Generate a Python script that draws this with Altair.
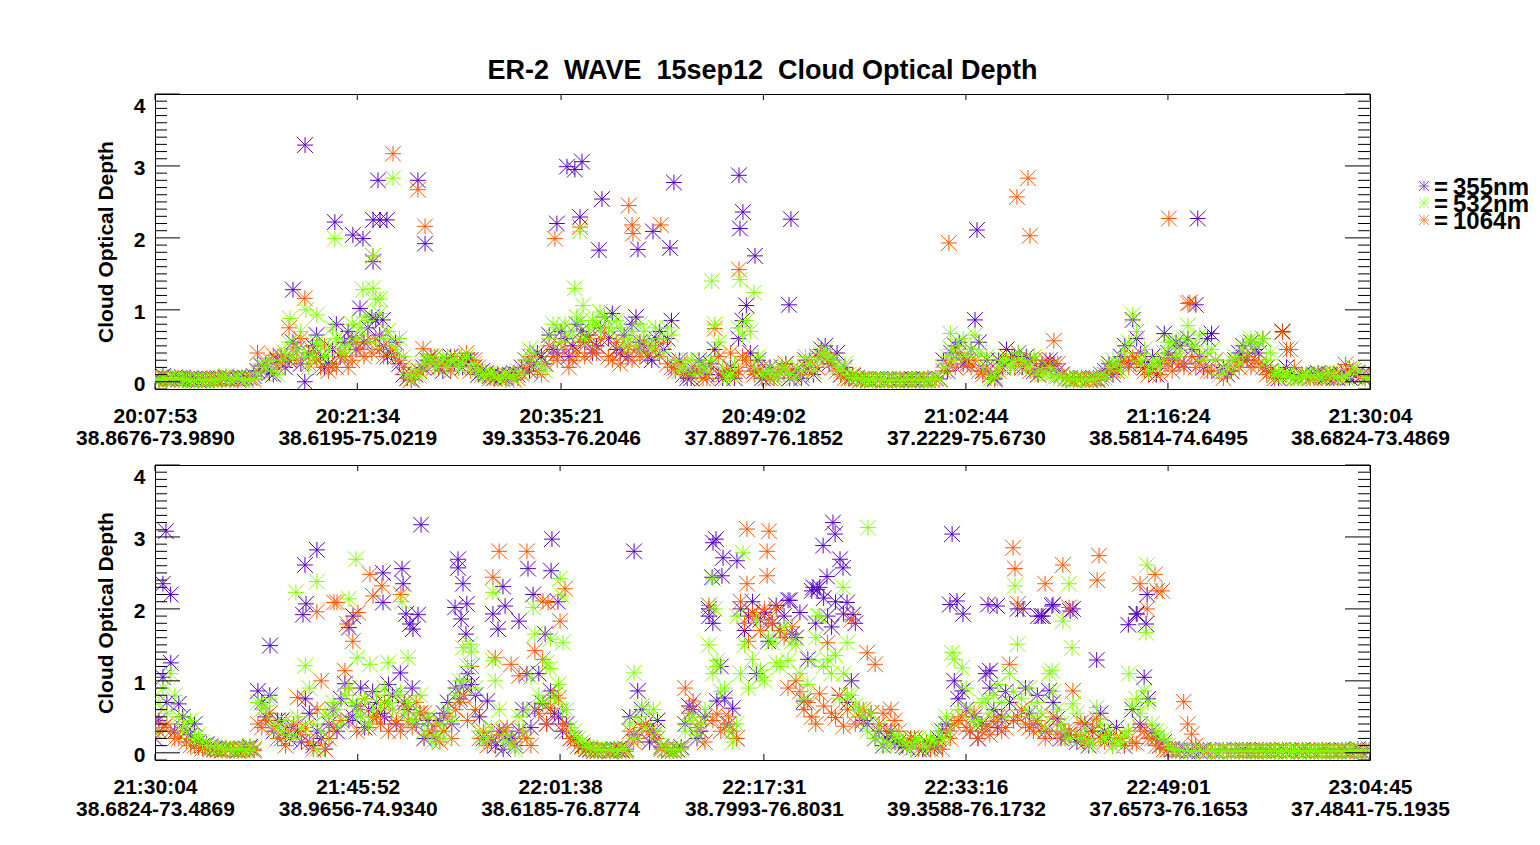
import altair as alt
import pandas as pd

# --- tick labels (time + lat/lon under each major tick) ---
P1_TICKS = ["20:07:53", "20:21:34", "20:35:21", "20:49:02", "21:02:44", "21:16:24", "21:30:04"]
P1_COORDS = ["38.8676-73.9890", "38.6195-75.0219", "39.3353-76.2046", "37.8897-76.1852",
             "37.2229-75.6730", "38.5814-74.6495", "38.6824-73.4869"]
P2_TICKS = ["21:30:04", "21:45:52", "22:01:38", "22:17:31", "22:33:16", "22:49:01", "23:04:45"]
P2_COORDS = ["38.6824-73.4869", "38.9656-74.9340", "38.6185-76.8774", "38.7993-76.8031",
             "39.3588-76.1732", "37.6573-76.1653", "37.4841-75.1935"]

WAVES = ["355nm", "532nm", "1064nm"]
COLORS = ["#5500cc", "#80ff00", "#ff5500"]

# sample spacing of the retrievals (seconds) in each leg; "_B" lists sit half a step later
P1_STEP = 32
P2_STEP = 37

# --- leg 1: 20:07:53 - 21:30:04 ---
P1_355 = [0.05, 0.08, 0.04, 0.05, 0.03, 0.04, 0.03, 0.04, 0.05, 0.06,
          0.04, 0.05, 0.06, 0.15, 0.25, 0.10, 0.35, 0.30, 0.45, 0.00,
          0.50, 0.35, 0.25, 0.80, 0.55, 0.60, 1.02, 0.75, 0.86, 0.50,
          0.40, 0.25, 0.05, 0.10, 0.20, 0.35, 0.20, 0.30, 0.25, 0.20,
          0.30, 0.10, 0.12, 0.05, 0.08, 0.10, 0.10, 0.30, 0.25, 0.35,
          0.65, 0.40, 0.60, 0.50, 0.70, 0.65, 0.50, 0.90, 0.95, 0.40,
          0.35, 0.90, 0.50, 0.30, 0.70, 0.60, 0.20, 0.10, 0.05, 0.30,
          0.10, 0.45, 0.05, 0.20, 0.60, 1.06, 0.15, 0.05, 0.20, 0.10,
          0.25, 0.10, 0.05, 0.20, 0.35, 0.50, 0.30, 0.10, 0.05, 0.05,
          0.04, 0.03, 0.04, 0.03, 0.02, 0.03, 0.04, 0.03, 0.03, 0.05,
          0.30, 0.40, 0.55, 0.30, 0.86, 0.15, 0.10, 0.30, 0.45, 0.35,
          0.20, 0.30, 0.10, 0.20, 0.25, 0.10, 0.05, 0.04, 0.03, 0.05,
          0.10, 0.25, 0.20, 0.50, 0.86, 0.40, 0.20, 0.10, 0.67, 0.30,
          0.50, 0.60, 1.07, 0.20, 0.67, 0.15, 0.10, 0.30, 0.50, 0.55,
          0.40, 0.20, 0.10, 0.70, 0.10, 0.05, 0.08, 0.10, 0.06, 0.10,
          0.05, 0.15, 0.10, 0.08, 0.10]
P1_355_B = [0.03, 0.04, 0.06, 0.03, 0.05, 0.02, 0.04, 0.03, 0.04, 0.05,
            0.03, 0.06, 0.08, 0.22, 0.12, 0.30, 0.20, 0.55, 0.25, 0.40,
            0.65, 0.20, 0.45, 0.35, 0.70, 0.45, 0.55, 0.90, 0.65, 0.35,
            0.55, 0.10, 0.03, 0.15, 0.30, 0.25, 0.15, 0.35, 0.20, 0.30,
            0.20, 0.15, 0.08, 0.10, 0.05, 0.12, 0.20, 0.15, 0.40, 0.25,
            0.45, 0.70, 0.35, 0.80, 0.55, 0.40, 0.75, 0.60, 0.45, 0.65,
            0.80, 0.55, 0.35, 0.60, 0.45, 0.85, 0.30, 0.05, 0.15, 0.20,
            0.25, 0.10, 0.15, 0.05, 0.85, 0.40, 0.30, 0.10, 0.05, 0.20,
            0.05, 0.15, 0.30, 0.10, 0.45, 0.25, 0.40, 0.20, 0.08, 0.03,
            0.03, 0.04, 0.02, 0.03, 0.04, 0.03, 0.02, 0.04, 0.03, 0.04,
            0.15, 0.50, 0.25, 0.45, 0.55, 0.30, 0.05, 0.20, 0.30, 0.40,
            0.35, 0.15, 0.25, 0.30, 0.15, 0.05, 0.03, 0.05, 0.04, 0.03,
            0.15, 0.10, 0.35, 0.25, 0.60, 0.20, 0.35, 0.25, 0.40, 0.55,
            0.25, 0.45, 0.35, 0.60, 0.30, 0.20, 0.15, 0.40, 0.30, 0.45,
            0.60, 0.15, 0.05, 0.20, 0.05, 0.10, 0.06, 0.12, 0.08, 0.05,
            0.10, 0.06, 0.12, 0.05, 0.08]
P1_532 = [0.03, 0.05, 0.06, 0.04, 0.03, 0.02, 0.02, 0.03, 0.04, 0.08,
          0.04, 0.03, 0.05, 0.12, 0.20, 0.15, 0.30, 0.55, 0.45, 0.40,
          0.35, 0.50, 0.45, 0.60, 0.40, 0.80, 0.75, 0.85, 1.15, 0.60,
          0.50, 0.60, 0.10, 0.15, 0.25, 0.30, 0.25, 0.20, 0.30, 0.25,
          0.20, 0.15, 0.10, 0.08, 0.05, 0.08, 0.15, 0.30, 0.40, 0.20,
          0.60, 0.75, 0.80, 0.70, 0.85, 0.75, 0.80, 0.90, 0.70, 0.75,
          0.60, 0.50, 0.70, 0.45, 0.60, 0.75, 0.30, 0.20, 0.30, 0.25,
          0.15, 0.80, 0.20, 0.10, 0.75, 0.85, 0.20, 0.10, 0.15, 0.10,
          0.20, 0.05, 0.15, 0.25, 0.30, 0.45, 0.30, 0.15, 0.10, 0.06,
          0.04, 0.03, 0.03, 0.02, 0.03, 0.03, 0.02, 0.03, 0.03, 0.04,
          0.20, 0.45, 0.50, 0.35, 0.65, 0.20, 0.05, 0.20, 0.30, 0.25,
          0.30, 0.20, 0.15, 0.10, 0.05, 0.08, 0.04, 0.03, 0.03, 0.04,
          0.10, 0.20, 0.25, 0.40, 0.93, 0.30, 0.15, 0.30, 0.40, 0.55,
          0.45, 0.78, 0.50, 0.30, 0.45, 0.10, 0.20, 0.35, 0.45, 0.60,
          0.55, 0.30, 0.10, 0.08, 0.06, 0.05, 0.10, 0.08, 0.05, 0.12,
          0.08, 0.06, 0.20, 0.10, 0.05]
P1_532_B = [0.02, 0.03, 0.05, 0.04, 0.02, 0.03, 0.03, 0.02, 0.05, 0.04,
            0.06, 0.02, 0.04, 0.25, 0.30, 0.10, 0.40, 0.35, 0.70, 0.20,
            0.55, 0.35, 0.75, 0.45, 0.50, 0.60, 0.90, 0.55, 0.95, 0.70,
            0.45, 0.35, 0.05, 0.08, 0.35, 0.20, 0.35, 0.30, 0.20, 0.35,
            0.25, 0.10, 0.12, 0.05, 0.10, 0.05, 0.10, 0.45, 0.25, 0.15,
            0.80, 0.55, 0.65, 0.90, 0.60, 0.85, 0.70, 0.75, 0.85, 0.50,
            0.70, 0.80, 0.55, 0.75, 0.40, 0.65, 0.15, 0.30, 0.10, 0.20,
            0.30, 0.55, 0.05, 0.25, 0.65, 0.70, 0.35, 0.15, 0.05, 0.20,
            0.10, 0.20, 0.35, 0.15, 0.40, 0.35, 0.20, 0.25, 0.05, 0.04,
            0.02, 0.04, 0.03, 0.03, 0.02, 0.04, 0.03, 0.02, 0.04, 0.03,
            0.35, 0.30, 0.60, 0.45, 0.40, 0.35, 0.08, 0.30, 0.20, 0.40,
            0.20, 0.35, 0.10, 0.20, 0.08, 0.04, 0.03, 0.04, 0.02, 0.05,
            0.05, 0.30, 0.15, 0.55, 0.70, 0.45, 0.25, 0.20, 0.55, 0.35,
            0.60, 0.50, 0.65, 0.40, 0.30, 0.15, 0.30, 0.25, 0.55, 0.50,
            0.60, 0.40, 0.15, 0.10, 0.05, 0.08, 0.06, 0.10, 0.12, 0.08,
            0.05, 0.10, 0.15, 0.06, 0.08]
P1_1064 = [0.04, 0.06, 0.05, 0.03, 0.04, 0.02, 0.03, 0.04, 0.03, 0.05,
           0.04, 0.03, 0.05, 0.40, 0.20, 0.37, 0.25, 0.75, 0.30, 1.16,
           0.40, 0.20, 0.15, 0.20, 0.35, 0.30, 0.45, 0.55, 0.60, 0.35,
           0.45, 0.30, 0.05, 0.10, 0.46, 0.30, 0.20, 0.25, 0.35, 0.30,
           0.15, 0.20, 0.10, 0.05, 0.04, 0.08, 0.05, 0.20, 0.35, 0.10,
           0.50, 0.30, 0.45, 0.30, 0.55, 0.60, 0.40, 0.70, 0.30, 0.25,
           0.50, 0.45, 0.55, 0.50, 0.35, 0.25, 0.15, 0.20, 0.10, 0.15,
           0.05, 0.74, 0.10, 0.40, 0.15, 0.30, 0.10, 0.20, 0.05, 0.15,
           0.25, 0.05, 0.10, 0.30, 0.20, 0.40, 0.20, 0.10, 0.05, 0.04,
           0.03, 0.02, 0.03, 0.02, 0.03, 0.03, 0.02, 0.03, 0.02, 0.04,
           0.15, 0.30, 0.40, 0.25, 0.30, 0.10, 0.05, 0.15, 0.35, 0.20,
           0.25, 0.15, 0.10, 0.30, 0.57, 0.10, 0.03, 0.04, 0.03, 0.03,
           0.05, 0.20, 0.15, 0.30, 0.35, 0.25, 0.10, 0.20, 0.30, 0.15,
           0.25, 1.09, 0.20, 0.30, 0.15, 0.10, 0.20, 0.25, 0.30, 0.20,
           0.25, 0.10, 0.05, 0.69, 0.45, 0.05, 0.08, 0.05, 0.10, 0.06,
           0.05, 0.24, 0.15, 0.08, 0.06]
P1_1064_B = [0.05, 0.03, 0.04, 0.06, 0.03, 0.04, 0.02, 0.05, 0.04, 0.03,
             0.05, 0.04, 0.03, 0.15, 0.30, 0.20, 0.35, 0.45, 0.60, 0.25,
             0.30, 0.50, 0.25, 0.40, 0.20, 0.55, 0.35, 0.40, 0.45, 0.70,
             0.35, 0.20, 0.03, 0.15, 0.20, 0.35, 0.25, 0.15, 0.20, 0.40,
             0.30, 0.10, 0.05, 0.08, 0.10, 0.03, 0.12, 0.35, 0.15, 0.25,
             0.35, 0.55, 0.20, 0.40, 0.35, 0.45, 0.60, 0.35, 0.55, 0.40,
             0.30, 0.35, 0.40, 0.45, 0.55, 0.20, 0.25, 0.10, 0.20, 0.05,
             0.20, 0.35, 0.15, 0.10, 0.35, 0.20, 0.15, 0.05, 0.10, 0.20,
             0.15, 0.10, 0.20, 0.15, 0.35, 0.30, 0.15, 0.05, 0.10, 0.03,
             0.04, 0.03, 0.02, 0.03, 0.03, 0.02, 0.04, 0.02, 0.03, 0.03,
             0.25, 0.20, 0.30, 0.20, 0.15, 0.20, 0.03, 0.25, 0.20, 0.30,
             0.20, 0.30, 0.15, 0.20, 0.25, 0.05, 0.02, 0.03, 0.04, 0.03,
             0.10, 0.15, 0.25, 0.20, 0.30, 0.15, 0.20, 0.10, 0.25, 0.30,
             0.20, 0.35, 0.25, 0.15, 0.30, 0.05, 0.15, 0.20, 0.35, 0.30,
             0.20, 0.15, 0.10, 0.45, 0.20, 0.08, 0.05, 0.10, 0.06, 0.12,
             0.08, 0.18, 0.10, 0.05, 0.08]

# isolated high retrievals: (seconds after leg start, optical depth)
P1_355_HIGH = [(560, 1.28), (609, 3.29), (730, 2.22), (803, 2.04), (844, 1.99), (885, 2.25),
               (913, 2.25), (941, 2.25), (905, 2.80), (885, 1.67), (925, 0.86), (1067, 2.80),
               (1096, 1.92), (1631, 2.20), (1672, 2.99), (1704, 2.95), (1733, 3.06), (1725, 2.29),
               (1802, 1.83), (1814, 2.54), (1960, 1.84), (2021, 2.09), (2090, 1.86), (2106, 2.77),
               (2370, 2.87), (2386, 2.36), (2374, 2.13), (2435, 1.75), (2581, 2.26), (2573, 1.07),
               (3336, 2.11), (4232, 2.27)]
P1_532_HIGH = [(548, 0.88), (613, 1.00), (657, 0.93), (730, 1.99), (844, 1.28), (885, 1.75),
               (885, 1.30), (913, 1.15), (966, 2.83), (1704, 1.30), (1737, 1.06), (1725, 2.09),
               (1806, 0.97), (2260, 1.40), (2374, 1.42), (2431, 1.24), (3228, 0.67)]
P1_1064_HIGH = [(966, 3.17), (1067, 2.67), (1096, 2.16), (885, 1.75), (1623, 1.99), (1725, 2.15),
                (1923, 2.45), (1936, 2.18), (1940, 2.06), (2053, 2.18), (2370, 1.56), (3222, 1.93),
                (3498, 2.57), (3543, 2.83), (3551, 2.03), (4115, 2.27), (4200, 1.10)]

# --- leg 2: 21:30:04 - 23:04:45 ---
P2_355 = [0.20, 1.05, 1.25, 0.68, 0.30, 0.40, 0.10, 0.08, 0.05, 0.06,
          0.04, 0.05, 0.08, 0.86, 0.50, 0.30, 0.45, 0.20, 0.30, 0.75,
          0.10, 0.20, 0.40, 0.30, 0.96, 0.50, 0.90, 0.60, 0.70, 0.50,
          0.80, 1.11, 0.60, 0.40, 0.20, 0.30, 0.45, 0.70, 0.90, 0.93,
          0.95, 0.50, 0.72, 0.10, 0.05, 0.20, 0.30, 1.10, 0.60, 0.68,
          0.86, 0.50, 0.40, 0.20, 0.10, 0.05, 0.03, 0.04, 0.05, 0.03,
          0.50, 0.86, 0.40, 0.30, 0.08, 0.04, 0.05, 0.40, 0.60, 0.30,
          2.00, 0.72, 0.76, 0.62, 2.00, 1.90, 1.10, 1.95, 1.80, 1.70,
          2.12, 1.60, 0.72, 2.25, 2.30, 1.90, 2.10, 1.93, 1.00, 0.60,
          0.40, 0.20, 0.10, 0.30, 0.15, 0.08, 0.20, 0.05, 0.10, 0.20,
          0.40, 1.00, 0.86, 0.30, 0.20, 1.10, 0.60, 0.50, 0.70, 2.00,
          0.90, 0.40, 1.90, 0.86, 0.47, 0.30, 2.00, 0.20, 0.10, 1.29,
          0.30, 0.10, 0.20, 1.78, 1.93, 1.05, 0.30, 0.10, 0.05, 0.03,
          0.04, 0.03, 0.02, 0.03, 0.03, 0.04, 0.02, 0.03, 0.03, 0.02,
          0.04, 0.03, 0.03, 0.02, 0.03, 0.04, 0.03, 0.02, 0.03, 0.03,
          0.04, 0.02, 0.05, 0.03]
P2_355_B = [0.45, 0.70, 0.30, 0.50, 0.25, 0.15, 0.12, 0.06, 0.04, 0.05,
            0.03, 0.06, 0.05, 0.70, 0.80, 0.45, 0.25, 0.35, 0.15, 0.55,
            0.30, 0.05, 0.60, 0.75, 0.45, 0.65, 0.35, 0.85, 0.55, 0.95,
            0.40, 0.70, 0.90, 0.55, 0.45, 0.20, 0.55, 0.40, 0.75, 1.10,
            0.80, 0.20, 0.15, 0.30, 0.25, 0.10, 0.60, 0.35, 1.10, 0.40,
            0.55, 0.30, 0.20, 0.10, 0.05, 0.03, 0.04, 0.02, 0.04, 0.05,
            0.25, 0.60, 0.15, 0.45, 0.05, 0.03, 0.08, 0.65, 0.20, 0.50,
            1.80, 1.20, 0.40, 0.20, 1.70, 2.10, 1.85, 1.55, 2.05, 1.90,
            1.65, 1.95, 1.30, 1.80, 2.15, 1.75, 0.80, 0.70, 1.80, 0.45,
            0.55, 0.30, 0.20, 0.15, 0.10, 0.20, 0.05, 0.15, 0.08, 0.30,
            0.30, 0.75, 0.60, 0.50, 0.40, 0.90, 0.35, 0.85, 0.45, 0.60,
            0.55, 0.80, 0.30, 0.70, 0.20, 0.25, 0.15, 0.40, 0.30, 0.55,
            0.20, 0.35, 0.10, 0.60, 0.40, 0.75, 0.20, 0.15, 0.05, 0.04,
            0.02, 0.03, 0.04, 0.03, 0.02, 0.03, 0.03, 0.04, 0.02, 0.03,
            0.03, 0.02, 0.04, 0.03, 0.03, 0.02, 0.03, 0.04, 0.03, 0.02,
            0.03, 0.03, 0.02, 0.04]
P2_532 = [0.30, 0.90, 1.10, 0.50, 0.35, 0.20, 0.15, 0.10, 0.08, 0.05,
          0.04, 0.06, 0.10, 0.70, 0.65, 0.40, 0.30, 0.25, 0.50, 1.21,
          0.40, 0.30, 0.50, 0.60, 0.80, 0.70, 0.50, 0.40, 0.80, 0.90,
          0.60, 0.85, 0.70, 0.55, 0.30, 0.15, 0.40, 0.60, 0.80, 1.00,
          1.40, 0.30, 0.20, 1.00, 0.15, 0.10, 0.50, 0.60, 1.65, 0.70,
          1.58, 0.95, 0.60, 0.30, 0.15, 0.08, 0.05, 0.03, 0.04, 0.06,
          0.40, 0.50, 0.35, 0.60, 0.10, 0.05, 0.04, 0.30, 0.50, 0.40,
          1.50, 1.20, 0.90, 0.15, 1.10, 0.90, 1.85, 1.00, 1.53, 1.20,
          1.28, 1.50, 0.75, 1.28, 1.90, 1.30, 1.35, 1.10, 0.80, 0.60,
          0.30, 0.20, 0.15, 0.10, 0.20, 0.10, 0.15, 0.10, 0.20, 0.30,
          0.50, 1.30, 1.18, 0.60, 0.45, 0.75, 0.80, 0.70, 1.10, 1.51,
          0.60, 0.50, 0.55, 1.10, 0.60, 0.30, 0.68, 0.20, 0.15, 0.63,
          0.20, 0.10, 0.15, 0.30, 0.75, 0.86, 0.40, 0.25, 0.10, 0.04,
          0.03, 0.02, 0.03, 0.03, 0.02, 0.03, 0.02, 0.03, 0.03, 0.02,
          0.03, 0.03, 0.02, 0.03, 0.03, 0.02, 0.03, 0.02, 0.03, 0.03,
          0.02, 0.03, 0.04, 0.03]
P2_532_B = [0.70, 0.55, 0.80, 0.30, 0.45, 0.25, 0.10, 0.08, 0.05, 0.04,
            0.06, 0.03, 0.05, 0.60, 0.75, 0.35, 0.45, 0.20, 0.35, 0.90,
            0.05, 0.55, 0.70, 0.40, 0.90, 0.55, 0.75, 0.60, 0.65, 0.70,
            0.80, 0.55, 0.45, 0.80, 0.50, 0.25, 0.20, 0.45, 1.00, 1.20,
            0.90, 0.15, 0.35, 0.60, 0.25, 0.05, 0.30, 1.05, 0.80, 1.25,
            0.75, 0.60, 0.35, 0.20, 0.08, 0.05, 0.03, 0.04, 0.02, 0.04,
            0.20, 0.65, 0.55, 0.30, 0.05, 0.04, 0.05, 0.45, 0.25, 0.60,
            1.10, 0.85, 0.30, 0.40, 1.50, 1.30, 1.15, 1.60, 1.25, 1.75,
            1.55, 1.10, 0.95, 1.60, 1.20, 1.10, 0.75, 0.80, 0.65, 0.50,
            0.55, 0.35, 0.10, 0.25, 0.15, 0.05, 0.20, 0.08, 0.15, 0.20,
            0.30, 0.60, 0.90, 0.40, 0.70, 0.55, 0.95, 0.50, 0.85, 0.75,
            0.90, 0.70, 0.35, 0.85, 0.40, 0.20, 0.55, 0.35, 0.10, 0.40,
            0.30, 0.15, 0.25, 0.65, 0.55, 0.70, 0.30, 0.20, 0.06, 0.03,
            0.03, 0.03, 0.02, 0.03, 0.02, 0.03, 0.03, 0.02, 0.03, 0.03,
            0.02, 0.03, 0.03, 0.02, 0.03, 0.02, 0.03, 0.03, 0.02, 0.03,
            0.03, 0.02, 0.03, 0.03]
P2_1064 = [0.49, 0.35, 0.30, 0.20, 0.15, 0.10, 0.06, 0.05, 0.04, 0.05,
           0.03, 0.04, 0.06, 0.40, 0.45, 0.35, 0.20, 0.30, 0.77, 0.35,
           0.05, 1.00, 0.20, 2.09, 1.14, 1.55, 0.60, 0.35, 0.50, 0.70,
           0.60, 0.30, 0.45, 0.70, 0.55, 0.30, 0.15, 0.50, 0.60, 0.80,
           1.20, 0.20, 0.10, 1.32, 0.30, 1.23, 1.07, 0.20, 1.42, 1.30,
           0.62, 0.76, 0.30, 0.15, 0.08, 0.04, 0.03, 0.04, 0.03, 0.04,
           0.30, 0.20, 0.40, 0.25, 0.05, 0.03, 0.04, 0.90, 0.72, 0.40,
           2.05, 0.54, 0.35, 0.30, 2.10, 1.55, 1.90, 2.00, 1.80, 1.70,
           0.90, 1.00, 0.60, 0.50, 0.82, 1.53, 0.49, 0.37, 1.85, 0.50,
           1.39, 1.23, 0.55, 0.60, 0.30, 0.10, 0.20, 0.10, 0.05, 0.15,
           0.30, 0.40, 0.50, 0.30, 0.20, 0.37, 0.44, 0.30, 1.23, 0.50,
           0.40, 0.30, 0.35, 0.30, 0.26, 0.20, 0.86, 0.42, 0.20, 0.47,
           0.15, 0.10, 0.20, 0.30, 0.13, 0.30, 0.20, 0.10, 0.05, 0.04,
           0.71, 0.26, 0.03, 0.02, 0.03, 0.03, 0.02, 0.03, 0.04, 0.03,
           0.02, 0.03, 0.03, 0.02, 0.03, 0.03, 0.02, 0.03, 0.03, 0.02,
           0.03, 0.03, 0.02, 0.03]
P2_1064_B = [0.30, 0.40, 0.20, 0.35, 0.10, 0.08, 0.10, 0.04, 0.03, 0.05,
             0.04, 0.05, 0.03, 0.35, 0.55, 0.20, 0.10, 0.40, 0.25, 0.15,
             0.60, 0.05, 0.35, 0.45, 0.90, 0.30, 0.75, 0.50, 0.40, 0.30,
             0.45, 0.65, 0.35, 0.55, 0.25, 0.40, 0.30, 0.20, 0.70, 0.45,
             0.60, 0.30, 0.20, 0.25, 0.35, 0.15, 0.30, 0.10, 0.55, 0.40,
             0.80, 0.40, 0.20, 0.10, 0.05, 0.03, 0.04, 0.03, 0.05, 0.02,
             0.15, 0.35, 0.30, 0.20, 0.04, 0.03, 0.05, 0.55, 0.35, 0.15,
             0.45, 0.30, 0.50, 0.20, 1.80, 1.95, 1.70, 1.85, 2.00, 1.60,
             1.75, 0.85, 0.70, 0.40, 0.65, 0.55, 0.80, 0.60, 0.40, 0.60,
             0.55, 0.40, 0.30, 0.45, 0.15, 0.20, 0.05, 0.15, 0.10, 0.05,
             0.20, 0.45, 0.35, 0.55, 0.30, 0.25, 0.50, 0.35, 0.45, 0.60,
             0.35, 0.45, 0.20, 0.50, 0.40, 0.30, 0.25, 0.15, 0.35, 0.20,
             0.25, 0.20, 0.10, 0.15, 0.35, 0.20, 0.10, 0.05, 0.04, 0.03,
             0.40, 0.10, 0.03, 0.03, 0.02, 0.03, 0.03, 0.02, 0.03, 0.03,
             0.03, 0.02, 0.03, 0.03, 0.02, 0.03, 0.03, 0.02, 0.03, 0.03,
             0.02, 0.03, 0.03, 0.02]

P2_355_HIGH = [(37, 2.35), (51, 3.08), (73, 2.20), (538, 1.49), (701, 2.61), (757, 2.82),
               (706, 2.07), (692, 1.92), (907, 1.74), (926, 1.90), (1066, 2.50), (1066, 2.09),
               (1155, 2.56), (1160, 2.35), (1174, 1.93), (1192, 1.79), (1206, 1.72), (1230, 1.92),
               (1244, 3.17), (1417, 2.69), (1417, 2.57), (1440, 2.35), (1403, 2.02), (1458, 2.07),
               (1454, 1.65), (1431, 1.86), (1580, 1.93), (1627, 2.31), (1604, 1.72), (1637, 2.04),
               (1702, 1.83), (1744, 2.56), (1768, 2.20), (1824, 1.65), (1856, 2.97), (1852, 2.53),
               (1884, 2.10), (2240, 2.80), (2623, 2.97), (2609, 2.92), (2656, 2.71), (2605, 2.44),
               (2721, 2.67), (2651, 2.46), (2591, 1.90), (2969, 2.12), (3077, 2.30), (3124, 2.88),
               (3170, 3.20), (3180, 3.04), (3203, 2.69), (3217, 2.57), (3142, 2.45), (3096, 2.27),
               (3236, 2.09), (3264, 1.92), (3727, 3.04), (3717, 2.06), (3750, 2.11), (3778, 1.93),
               (3895, 2.06), (3937, 2.04), (4059, 2.00), (4129, 1.90), (4194, 2.04), (4152, 1.90),
               (4199, 2.06), (4279, 1.97), (4639, 2.20), (4592, 1.93), (4634, 1.79), (3904, 1.14)]
P2_532_HIGH = [(659, 2.23), (757, 2.38), (907, 2.14), (940, 2.69), (945, 1.32), (1155, 2.10),
               (1183, 1.32), (1090, 1.25), (1005, 1.23), (1440, 1.46), (1473, 1.51), (1580, 2.23),
               (1580, 1.28), (1768, 2.02), (1894, 2.42), (1903, 2.18), (1908, 1.53), (1847, 1.17),
               (2240, 1.11), (2609, 2.42), (2749, 2.78), (2618, 2.00), (2721, 1.90), (2628, 1.28),
               (2829, 1.05), (3217, 2.30), (3334, 3.13), (3100, 1.90), (3236, 1.53), (3727, 1.39),
               (4021, 2.32), (4274, 2.35), (4245, 1.83), (4639, 2.61), (4634, 1.67), (4288, 1.46),
               (4194, 1.14), (4554, 1.10)]
P2_1064_HIGH = [(757, 1.96), (837, 2.09), (898, 1.79), (949, 1.95), (1005, 2.48), (1019, 2.18),
                (1061, 2.32), (1150, 2.20), (1609, 2.80), (1580, 2.44), (1739, 2.80), (1814, 2.11),
                (1838, 2.09), (1917, 2.28), (1894, 1.83), (2768, 3.11), (2871, 3.08), (2862, 2.80),
                (2768, 2.35), (2862, 2.46), (4012, 2.85), (4021, 2.56), (4035, 2.07), (4162, 2.35),
                (4245, 2.61), (4414, 2.74), (4405, 2.40), (4274, 2.02), (4676, 2.48), (4606, 2.35),
                (4685, 2.25), (4709, 2.25), (4639, 2.00)]

TITLE = "ER-2\u00a0\u00a0WAVE\u00a0\u00a015sep12\u00a0\u00a0Cloud Optical Depth"
FONT = "Liberation Sans"
W, H = 1215, 295
STAR = "M-1,0L1,0M0,-1L0,1M-1,-1L1,1M-1,1L1,-1"
Y_SCALE = alt.Scale(domain=[-0.1, 4.0], nice=False, zero=False)


def hms(s):
    h, m, sec = (int(p) for p in s.split(":"))
    return h * 3600 + m * 60 + sec


def leg_frame(ticks, step, base, extra, high):
    t0, t1 = hms(ticks[0]), hms(ticks[-1])
    rows = []
    # IDL draw order: 355, then 1064, then 532 on top
    for wl in ["355nm", "1064nm", "532nm"]:
        for shift, vals in [(0.0, base[wl]), (0.5, extra[wl])]:
            for i, v in enumerate(vals):
                t = t0 + (i + shift) * step
                if t <= t1:
                    rows.append({"t": t, "cod": v, "wl": wl})
        for dt, v in high[wl]:
            rows.append({"t": t0 + dt, "cod": v, "wl": wl})
    return pd.DataFrame(rows)


def panel(ticks, coords, step, base, extra, high):
    secs = [hms(t) for t in ticks]
    x_scale = alt.Scale(domain=[secs[0], secs[-1]], nice=False, zero=False)
    idx = f"indexof({secs}, datum.value)"
    lab = f"[{ticks}[{idx}], {coords}[{idx}]]"

    pts = alt.Chart(leg_frame(ticks, step, base, extra, high)).mark_point(
        shape=STAR, size=250, filled=False, strokeWidth=1, opacity=1, clip=True
    ).encode(
        x=alt.X("t:Q", scale=x_scale, axis=alt.Axis(
            values=secs, labelExpr=lab, title=None, domain=False, ticks=False, grid=False,
            labelFlush=False, labelOverlap=False, labelPadding=16, labelLineHeight=22.5,
            labelFontSize=21, labelFontWeight="bold", labelFont=FONT, labelColor="black")),
        y=alt.Y("cod:Q", scale=Y_SCALE, axis=alt.Axis(
            values=[0, 1, 2, 3, 4], format="d", title="Cloud Optical Depth",
            titleFontSize=21, titleFontWeight="bold", titleFont=FONT, titleColor="black",
            titlePadding=17, labelFontSize=21, labelFontWeight="bold", labelFont=FONT,
            labelColor="black", labelPadding=10, labelOffset=3, labelFlush=True,
            labelFlushOffset=2, domain=False, ticks=False, grid=False)),
        color=alt.Color("wl:N", scale=alt.Scale(domain=WAVES, range=COLORS), legend=None),
    )

    # IDL style inward ticks
    major = pd.DataFrame({"cod": [0, 1, 2, 3, 4]})
    minor = pd.DataFrame({"cod": [k / 10 for k in range(-1, 41) if k % 10]})
    xt = pd.DataFrame({"t": secs})
    layers = [pts]
    for df, ln in [(major, 25), (minor, 12)]:
        for x0, x1 in [(0, ln), (W - ln, W)]:
            layers.append(alt.Chart(df).mark_rule(color="black", strokeWidth=1).encode(
                y=alt.Y("cod:Q", scale=Y_SCALE), x=alt.value(x0), x2=alt.value(x1)))
    for y0, y1 in [(0, 6), (H - 6, H)]:
        layers.append(alt.Chart(xt).mark_rule(color="black", strokeWidth=1).encode(
            x=alt.X("t:Q", scale=x_scale), y=alt.value(y0), y2=alt.value(y1)))
    return layers


top_layers = panel(P1_TICKS, P1_COORDS, P1_STEP,
                   {"355nm": P1_355, "532nm": P1_532, "1064nm": P1_1064},
                   {"355nm": P1_355_B, "532nm": P1_532_B, "1064nm": P1_1064_B},
                   {"355nm": P1_355_HIGH, "532nm": P1_532_HIGH, "1064nm": P1_1064_HIGH})
bottom_layers = panel(P2_TICKS, P2_COORDS, P2_STEP,
                      {"355nm": P2_355, "532nm": P2_532, "1064nm": P2_1064},
                      {"355nm": P2_355_B, "532nm": P2_532_B, "1064nm": P2_1064_B},
                      {"355nm": P2_355_HIGH, "532nm": P2_532_HIGH, "1064nm": P2_1064_HIGH})

# plot title, centred over the first panel
top_layers.append(alt.Chart(pd.DataFrame({"title": [TITLE]})).mark_text(
    align="center", baseline="alphabetic", fontSize=27, fontWeight="bold", font=FONT,
    color="black").encode(x=alt.value(W / 2), y=alt.value(-15), text="title:N"))

# legend to the right of the first panel (cut off at the window edge as in the original)
for k, (wl, col) in enumerate(zip(WAVES, COLORS)):
    row = alt.Chart(pd.DataFrame({"lab": [wl]}))
    top_layers.append(row.mark_point(shape=STAR, size=100, filled=False, strokeWidth=1).encode(
        x=alt.value(1269), y=alt.value(92 + 17 * k), color=alt.value(col)))
    top_layers.append(row.mark_text(align="left", baseline="alphabetic", fontSize=24,
                                    fontWeight="bold", font=FONT, color="black").encode(
        x=alt.value(1279), y=alt.value(101 + 17 * k), text=alt.value("=")))
    top_layers.append(row.mark_text(align="left", baseline="alphabetic", fontSize=24,
                                    fontWeight="bold", font=FONT, color="black",
                                    limit=80, ellipsis="\u200b").encode(
        x=alt.value(1298), y=alt.value(101 + 17 * k), text="lab:N"))

top = alt.layer(*top_layers).properties(width=W, height=H)
bottom = alt.layer(*bottom_layers).properties(width=W, height=H)

chart = alt.vconcat(top, bottom, spacing=15).properties(
    padding={"left": 67, "top": 48, "right": 0, "bottom": 0},
    background="white",
).configure_view(stroke="black", strokeWidth=1)

chart.save("out.html", embed_options={"renderer": "svg", "actions": False})
